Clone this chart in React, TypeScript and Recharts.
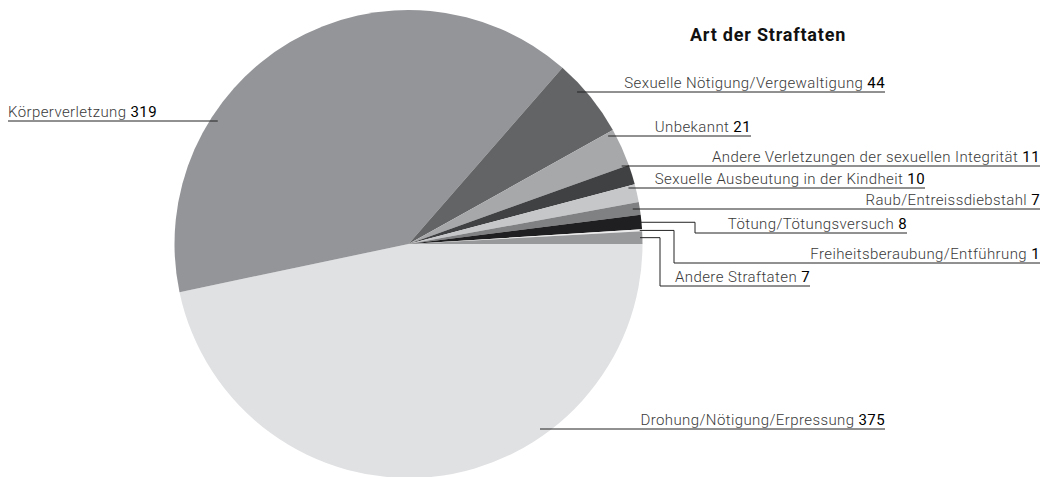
import React from 'react';
import { PieChart, Pie, Cell } from 'recharts';

const categories = [
  'Drohung/Nötigung/Erpressung',
  'Körperverletzung',
  'Sexuelle Nötigung/Vergewaltigung',
  'Unbekannt',
  'Andere Verletzungen der sexuellen Integrität',
  'Sexuelle Ausbeutung in der Kindheit',
  'Raub/Entreissdiebstahl',
  'Tötung/Tötungsversuch',
  'Freiheitsberaubung/Entführung',
  'Andere Straftaten',
];
const counts = [375, 319, 44, 21, 11, 10, 7, 8, 1, 7];
const sliceColors = [
  '#e0e1e3', '#949599', '#636466', '#a7a8aa', '#404143',
  '#c6c7c9', '#808183', '#1f1f21', '#ececec', '#98999b',
];

// leader line layout per slice: line height, end of the underline, optional elbow
const labelLayout = [
  { lineY: 429, endX: 885 },
  { lineY: 121, startX: 8, side: 'left' },
  { lineY: 92, endX: 885 },
  { lineY: 136, endX: 751 },
  { lineY: 166, endX: 1040 },
  { lineY: 188, endX: 925 },
  { lineY: 209, endX: 1040 },
  { lineY: 233, endX: 907, elbowX: 695 },
  { lineY: 263, endX: 1040, elbowX: 674 },
  { lineY: 286, endX: 810, elbowX: 660 },
];

const data = categories.map((name, i) => ({ name, value: counts[i] }));

const RAD = Math.PI / 180;
const FONT = 'Roboto, "Liberation Sans", Arial, sans-serif';

const renderLabel = (props: any) => {
  const { cx, cy, midAngle, outerRadius, index } = props;
  const lay: any = labelLayout[index];
  const item = data[index];
  let path = '';
  let textX = 0;
  let anchor: 'start' | 'end' = 'end';
  if (lay.elbowX) {
    const r = outerRadius * 0.99;
    const ax = cx + r * Math.cos(-midAngle * RAD);
    const ay = cy + r * Math.sin(-midAngle * RAD);
    path = `M${ax},${ay}H${lay.elbowX}V${lay.lineY}H${lay.endX}`;
    textX = lay.endX;
  } else {
    const r = outerRadius * 0.97;
    const dy = lay.lineY - cy;
    const dx = Math.sqrt(r * r - dy * dy);
    const ax = lay.side === 'left' ? cx - dx : cx + dx;
    if (lay.side === 'left') {
      path = `M${lay.startX},${lay.lineY}H${ax}`;
      textX = lay.startX;
      anchor = 'start';
    } else {
      path = `M${ax},${lay.lineY}H${lay.endX}`;
      textX = lay.endX;
    }
  }
  return (
    <g key={`lbl-${index}`}>
      <path d={path} stroke="#222" strokeWidth={1} fill="none" />
      <text x={textX} y={lay.lineY - 4} textAnchor={anchor} fontFamily={FONT} fontSize={15} letterSpacing={0.4}>
        <tspan fill="#3a3a3a" fontWeight={300}>{item.name} </tspan>
        <tspan fill="#000" fontWeight={400}>{item.value}</tspan>
      </text>
    </g>
  );
};

export default function App() {
  return (
    <div style={{ position: 'absolute', left: 0, top: 0, width: 1046, height: 477, background: '#fff' }}>
      <PieChart width={1046} height={477} margin={{ top: 0, right: 0, bottom: 0, left: 0 }}>
        <text x={768} y={41} textAnchor="middle" fontFamily={FONT} fontSize={18} fontWeight={700} letterSpacing={0.8} fill="#111">
          Art der Straftaten
        </text>
        <Pie
          data={data}
          dataKey="value"
          nameKey="name"
          cx={408.5}
          cy={244}
          outerRadius={234}
          startAngle={0}
          endAngle={-360}
          stroke="none"
          labelLine={false}
          label={renderLabel}
          isAnimationActive={false}
        >
          {data.map((entry, index) => (
            <Cell key={`cell-${index}`} fill={sliceColors[index]} />
          ))}
        </Pie>
      </PieChart>
    </div>
  );
}
